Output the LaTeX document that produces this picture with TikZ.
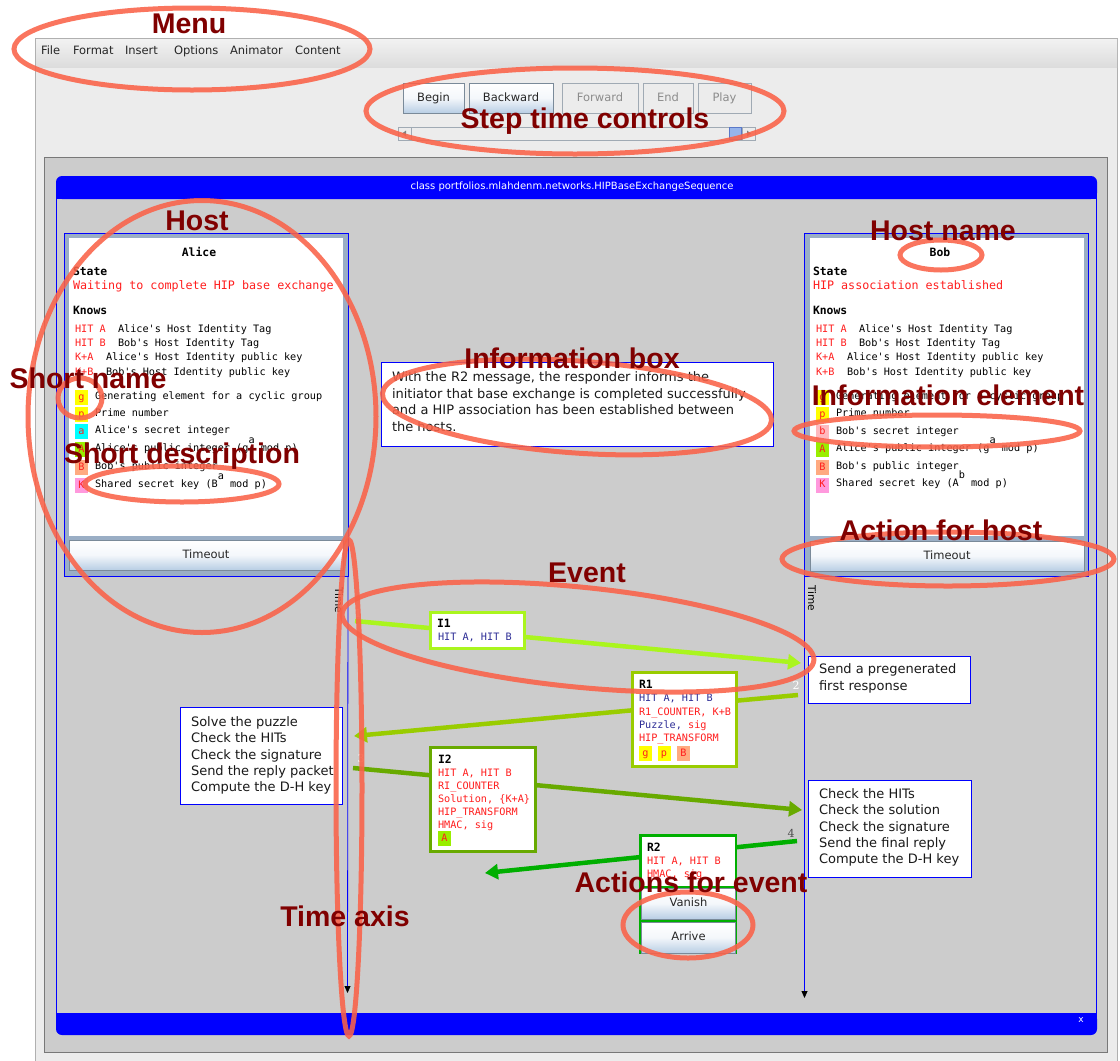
\documentclass[tikz,border=0pt]{standalone}
\usepackage{fontspec}
\setmainfont{DejaVu Sans}
\setmonofont{DejaVu Sans Mono}
\newfontfamily\annfont{Liberation Sans}
\newfontfamily\numfont{DejaVu Serif}
\usetikzlibrary{arrows.meta}

\definecolor{wingray}{RGB}{236,236,236}
\definecolor{winborder}{RGB}{176,176,176}
\definecolor{menutop}{RGB}{242,242,242}
\definecolor{menubot}{RGB}{220,220,220}
\definecolor{panelgray}{RGB}{204,204,204}
\definecolor{panelborder}{RGB}{120,120,120}
\definecolor{jblue}{RGB}{0,0,255}
\definecolor{hostframe}{RGB}{154,174,197}
\definecolor{btnbot}{RGB}{184,206,228}
\definecolor{btnmid}{RGB}{244,247,251}
\definecolor{btnborder}{RGB}{122,138,153}
\definecolor{dbtnborder}{RGB}{160,170,180}
\definecolor{dbtntext}{RGB}{140,140,140}
\definecolor{txtred}{RGB}{255,30,30}
\definecolor{txtblue}{RGB}{45,45,150}
\definecolor{evIone}{RGB}{170,245,30}
\definecolor{evRone}{RGB}{153,204,0}
\definecolor{evItwo}{RGB}{104,170,0}
\definecolor{evRtwo}{RGB}{0,175,0}
\definecolor{annred}{RGB}{128,0,0}
\definecolor{annell}{RGB}{250,98,72}
\definecolor{chipyellow}{RGB}{255,255,0}
\definecolor{chipcyan}{RGB}{0,255,255}
\definecolor{chiplime}{RGB}{153,238,0}
\definecolor{chipsalmon}{RGB}{255,170,128}
\definecolor{chippink}{RGB}{255,153,221}
\definecolor{chiprose}{RGB}{255,185,190}
\definecolor{thumbfill}{RGB}{150,180,235}
\definecolor{thumbborder}{RGB}{90,120,200}

\tikzset{
  every node/.style={inner sep=0pt, outer sep=0pt},
  uifont/.style={font=\fontsize{11.5}{13}\selectfont},
  menuitem/.style={uifont, anchor=base west, text=black!85},
  btn/.style={draw=btnborder, line width=0.8pt, top color=white, bottom color=btnbot, middle color=btnmid, uifont, text=black!85, anchor=north west, text height=8.6pt, text depth=2.4pt},
  dbtn/.style={draw=dbtnborder, line width=0.8pt, fill=wingray, uifont, text=dbtntext, anchor=north west, text height=8.6pt, text depth=2.4pt},
  sbox/.style={draw=dbtnborder, line width=0.6pt, fill=wingray, anchor=north west},
  mono/.style={font=\ttfamily\fontsize{10.2}{12}\selectfont, anchor=base west},
  monolg/.style={font=\ttfamily\fontsize{11.7}{13}\selectfont, anchor=base west},
  monobf/.style={font=\ttfamily\bfseries\fontsize{11.4}{13}\selectfont, anchor=base west},
  chip/.style={minimum width=13pt, minimum height=15pt, text height=7.4pt, text depth=2.2pt, font=\ttfamily\fontsize{10.2}{12}\selectfont, text=txtred},
  hostouter/.style={draw=jblue, line width=1pt, fill=hostframe, anchor=north west},
  hostwhite/.style={fill=white, anchor=north west},
  taxis/.style={draw=jblue, line width=0.8pt, -{Triangle[length=7pt,width=6pt,color=black,fill=black]}},
  timelbl/.style={font=\fontsize{10.5}{12}\selectfont, rotate=-90},
  msg/.style={line width=4.5pt, -{Triangle[length=13pt,width=15pt]}},
  evbox/.style={fill=white, line width=3pt, anchor=north west},
  abox/.style={draw=jblue, fill=white, line width=1pt, anchor=north west},
  btext/.style={font=\fontsize{13}{16}\selectfont, anchor=base west, text=black!90},
  stepnum/.style={font=\numfont\fontsize{11}{12}\selectfont},
  annring/.style={draw=annell, line width=5pt, opacity=0.88},
  anntext/.style={font=\annfont\bfseries\fontsize{28.5}{30}\selectfont, text=annred, anchor=base},
}

\begin{document}
\begin{tikzpicture}[x=1pt,y=-1pt]
\useasboundingbox (0,0) rectangle (1120,1061);
\fill[white] (0,0) rectangle (1120,1061);

% ---------- window and menu ----------
\draw[winborder, fill=wingray, line width=0.8pt] (35.5,38.5) rectangle (1117.5,1062);
\shade[top color=menutop, bottom color=menubot] (36,39) rectangle (1117,67);
\node[menuitem] (mFile) at (41,54) {File};
\node[menuitem] (mFormat) at (73,54) {Format};
\node[menuitem] (mInsert) at (125,54) {Insert};
\node[menuitem] (mOptions) at (174,54) {Options};
\node[menuitem] (mAnimator) at (230,54) {Animator};
\node[menuitem] (mContent) at (295,54) {Content};

% ---------- step controls ----------
\node[btn, minimum width=61pt, minimum height=30pt] (bBegin) at (403,83) {Begin};
\node[btn, minimum width=84pt, minimum height=30pt] (bBack) at (469,83) {Backward};
\node[dbtn, minimum width=76pt, minimum height=30pt] (bFwd) at (562,83) {Forward};
\node[dbtn, minimum width=50pt, minimum height=30pt] (bEnd) at (643,83) {End};
\node[dbtn, minimum width=53pt, minimum height=30pt] (bPlay) at (698,83) {Play};

\node[sbox, minimum width=357pt, minimum height=13pt] (slider) at (398,127) {};
\node[sbox, minimum width=13pt, minimum height=13pt] (sleft) at (398,127) {};
\fill[gray] ([xshift=-2.5pt]sleft.center) -- ++(4pt,-3pt) -- ++(0,6pt) -- cycle;
\node[draw=thumbborder, fill=thumbfill, line width=0.6pt, anchor=north west, minimum width=12pt, minimum height=12pt] (thumb) at (729.5,127.5) {};
\node[sbox, minimum width=13pt, minimum height=13pt] (sright) at (742,127) {};
\fill[gray] ([xshift=2.5pt]sright.center) -- ++(-4pt,-3pt) -- ++(0,6pt) -- cycle;

% ---------- panel and blue frame ----------
\draw[panelborder, fill=panelgray, line width=1pt] (44.5,157.5) rectangle (1107.5,1052);
\fill[jblue, rounded corners=6pt] (56,176) rectangle (1097,199);
\fill[jblue] (56,190) rectangle (1097,199);
\node[font=\fontsize{10}{12}\selectfont, text=white] (title) at (572,187) {class portfolios.mlahdenm.networks.HIPBaseExchangeSequence};
\fill[jblue, rounded corners=6pt] (56,1013) rectangle (1097,1035);
\fill[jblue] (56,1013) rectangle (1097,1022);
\node[font=\fontsize{9}{10}\selectfont, text=white] (closex) at (1081,1020) {x};
\draw[jblue, line width=0.8pt] (56.4,199) -- (56.4,1013);
\draw[jblue, line width=0.8pt] (1096.6,199) -- (1096.6,1013);

% ---------- Alice ----------
\node[hostouter, minimum width=284pt, minimum height=343pt] (aliceBox) at (64,233) {};
\node[hostwhite, minimum width=274pt, minimum height=298pt] (aliceWhite) at (69,238) {};
\node[btn, minimum width=274pt, minimum height=30pt] (aliceTimeout) at (69,540) {Timeout};
\node[monobf, anchor=base] (aliceName) at (199,256) {Alice};
\node[monobf] (aState) at (73,275) {State};
\node[monolg, text=txtred] (aStateTxt) at (73,289) {Waiting to complete HIP base exchange};
\node[monobf] (aKnows) at (73,314) {Knows};
\node[mono, text=txtred] (aHA) at (75,332.7) {HIT A};
\node[mono] (aHAd) at (118,332.7) {Alice's Host Identity Tag};
\node[mono, text=txtred] (aHB) at (75,346.7) {HIT B};
\node[mono] (aHBd) at (118,346.7) {Bob's Host Identity Tag};
\node[mono, text=txtred] (aKA) at (75,360.7) {K+A};
\node[mono] (aKAd) at (106,360.7) {Alice's Host Identity public key};
\node[mono, text=txtred] (aKB) at (75,375.7) {K+B};
\node[mono] (aKBd) at (106,375.7) {Bob's Host Identity public key};
\node[chip, fill=chipyellow] (ag) at (81.5,397.5) {g};
\node[mono] (agd) at (95,399.7) {Generating element for a cyclic group};
\node[chip, fill=chipyellow] (ap) at (81.5,414.5) {p};
\node[mono] (apd) at (95,416.7) {Prime number};
\node[chip, fill=chipcyan] (aa) at (81.5,431.5) {a};
\node[mono] (aad) at (95,433.7) {Alice's secret integer};
\node[chip, fill=chiplime] (aA) at (81.5,449.5) {A};
\node[mono] (aAd) at (95,451.7) {Alice's public integer (g\raisebox{8pt}{a} mod p)};
\node[chip, fill=chipsalmon] (aB) at (81.5,467.5) {B};
\node[mono] (aBd) at (95,469.7) {Bob's public integer};
\node[chip, fill=chippink] (aK) at (81.5,485.5) {K};
\node[mono] (aKd) at (95,487.7) {Shared secret key (B\raisebox{8pt}{a} mod p)};

% ---------- Bob ----------
\node[hostouter, minimum width=284pt, minimum height=343pt] (bobBox) at (804.5,233) {};
\node[hostwhite, minimum width=274pt, minimum height=298pt] (bobWhite) at (810,238) {};
\node[btn, minimum width=274pt, minimum height=30pt] (bobTimeout) at (810,541) {Timeout};
\node[monobf, anchor=base] (bobName) at (940,256) {Bob};
\node[monobf] (bState) at (813,275) {State};
\node[monolg, text=txtred] (bStateTxt) at (813,289) {HIP association established};
\node[monobf] (bKnows) at (813,314) {Knows};
\node[mono, text=txtred] (bHA) at (816,332.7) {HIT A};
\node[mono] (bHAd) at (859,332.7) {Alice's Host Identity Tag};
\node[mono, text=txtred] (bHB) at (816,346.7) {HIT B};
\node[mono] (bHBd) at (859,346.7) {Bob's Host Identity Tag};
\node[mono, text=txtred] (bKA) at (816,360.7) {K+A};
\node[mono] (bKAd) at (847,360.7) {Alice's Host Identity public key};
\node[mono, text=txtred] (bKB) at (816,375.7) {K+B};
\node[mono] (bKBd) at (847,375.7) {Bob's Host Identity public key};
\node[chip, fill=chipyellow] (bg) at (822.5,397.5) {g};
\node[mono] (bgd) at (836,399.7) {Generating element for a cyclic group};
\node[chip, fill=chipyellow] (bp) at (822.5,414.5) {p};
\node[mono] (bpd) at (836,416.7) {Prime number};
\node[chip, fill=chiprose] (bb) at (822.5,432) {b};
\node[mono] (bbd) at (836,434.7) {Bob's secret integer};
\node[chip, fill=chiplime] (bA) at (822.5,449.5) {A};
\node[mono] (bAd) at (836,451.7) {Alice's public integer (g\raisebox{8pt}{a} mod p)};
\node[chip, fill=chipsalmon] (bB) at (822.5,467.5) {B};
\node[mono] (bBd) at (836,469.7) {Bob's public integer};
\node[chip, fill=chippink] (bK) at (822.5,485) {K};
\node[mono] (bKd) at (836,486.7) {Shared secret key (A\raisebox{8pt}{b} mod p)};

% ---------- time axes ----------
\coordinate (aEnd) at (347.5,993);
\draw[taxis] (aliceBox.south east) -- (aEnd);
\coordinate (bEnd) at (804.5,998);
\draw[taxis] (bobBox.south west) -- (bEnd);
\node[timelbl] (aTime) at (339,600) {Time};
\node[timelbl] (bTime) at (812,598) {Time};

% ---------- messages ----------
\coordinate (m1s) at (355,621);
\coordinate (m1e) at (801,663);
\coordinate (m2s) at (798,695);
\coordinate (m2e) at (354,736);
\coordinate (m3s) at (353,768);
\coordinate (m3e) at (802,810);
\coordinate (m4s) at (797,841);
\coordinate (m4e) at (485,873);
\draw[msg, evIone] (m1s) -- (m1e);
\draw[msg, evRone] (m2s) -- (m2e);
\draw[msg, evItwo] (m3s) -- (m3e);
\draw[msg, evRtwo] (m4s) -- (m4e);

% I1
\node[evbox, draw=evIone, minimum width=94pt, minimum height=36pt] (I1box) at (430.5,612.5) {};
\node[monobf] (I1t) at (437,627.5) {I1};
\node[mono, text=txtblue] (I1a) at (438,640.7) {HIT A, HIT B};
% R1
\node[evbox, draw=evRone, minimum width=104pt, minimum height=94pt] (R1box) at (632.5,672.5) {};
\node[monobf] (R1t) at (639,688.5) {R1};
\node[mono, text=txtblue] (R1a) at (639,701.9) {HIT A, HIT B};
\node[mono, text=txtred] (R1b) at (639,715.1) {R1\_COUNTER, K+B};
\node[mono, text=txtblue] (R1c) at (639,728.3) {Puzzle, \textcolor{txtred}{sig}};
\node[mono, text=txtred] (R1d) at (639,741.5) {HIP\_TRANSFORM};
\node[chip, fill=chipyellow] (R1g) at (645.5,753.5) {g};
\node[chip, fill=chipyellow] (R1p) at (664,753.5) {p};
\node[chip, fill=chipsalmon] (R1B) at (683.5,753.5) {B};
% I2
\node[evbox, draw=evItwo, minimum width=105pt, minimum height=104pt] (I2box) at (430.5,747.5) {};
\node[monobf] (I2t) at (438,763.5) {I2};
\node[mono, text=txtred] (I2a) at (438,776.7) {HIT A, HIT B};
\node[mono, text=txtred] (I2b) at (438,789.7) {RI\_COUNTER};
\node[mono, text=txtred] (I2c) at (438,802.7) {Solution, \{K+A\}};
\node[mono, text=txtred] (I2d) at (438,815.7) {HIP\_TRANSFORM};
\node[mono, text=txtred] (I2e) at (438,828.2) {HMAC, sig};
\node[chip, fill=chiplime] (I2A) at (444.5,838.5) {A};
% R2
\node[evbox, draw=evRtwo, line width=2.5pt, minimum width=95.5pt, minimum height=117.5pt] (R2box) at (640.25,835.25) {};
\fill[evRtwo] (639,886) rectangle (737,954);
\node[monobf] (R2t) at (647,851.5) {R2};
\node[mono, text=txtred] (R2a) at (647,864.7) {HIT A, HIT B};
\node[mono, text=txtred] (R2b) at (647,877.7) {HMAC, sig};
\node[btn, minimum width=94pt, minimum height=31pt] (bVanish) at (641.5,888) {Vanish};
\node[btn, minimum width=94pt, minimum height=31pt] (bArrive) at (641.5,922) {Arrive};

% ---------- information / action boxes ----------
\node[abox, minimum width=392pt, minimum height=84pt] (infoBox) at (381,362) {};
\foreach [count=\i] \t in {{With the R2 message, the responder informs the},{initiator that base exchange is completed successfully},{and a HIP association has been established between},{the hosts.}}
  \node[btext] (info\i) at (392,{364.9+16.6*\i}) {\t};

\node[abox, minimum width=162pt, minimum height=97pt] (aAct) at (180,707) {};
\foreach [count=\i] \t in {Solve the puzzle,Check the HITs,Check the signature,Send the reply packet,Compute the D-H key}
  \node[btext] (aAct\i) at (191,{710.2+16.3*\i}) {\t};

\node[abox, minimum width=162pt, minimum height=47pt] (bActA) at (808,656) {};
\foreach [count=\i] \t in {Send a pregenerated,first response}
  \node[btext] (bActA\i) at (819,{657+16.5*\i}) {\t};

\node[abox, minimum width=163pt, minimum height=97pt] (bActB) at (808,780) {};
\foreach [count=\i] \t in {Check the HITs,Check the solution,Check the signature,Send the final reply,Compute the D-H key}
  \node[btext] (bActB\i) at (819,{782.2+16.3*\i}) {\t};

% ---------- step numbers ----------
\node[stepnum, text=white] (n1) at (358,613) {1};
\node[stepnum, text=white] (n2) at (796,685) {2};
\node[stepnum, text=white] (n3) at (361,758) {3};
\node[stepnum, text=black!70] (n4) at (791,833) {4};

% ---------- annotation rings ----------
\draw[annring] (192,49) ellipse [x radius=178pt, y radius=41pt];
\draw[annring] (575,111) ellipse [x radius=209pt, y radius=43pt];
\draw[annring] (202,416.5) ellipse [x radius=174pt, y radius=216pt];
\draw[annring] (941,255) ellipse [x radius=41pt, y radius=15pt];
\draw[annring, rotate around={-4:(577,407)}] (577,407) ellipse [x radius=195pt, y radius=46pt];
\draw[annring] (80,398) ellipse [x radius=22pt, y radius=20pt];
\draw[annring] (937,431) ellipse [x radius=143pt, y radius=16pt];
\draw[annring] (182,484) ellipse [x radius=97pt, y radius=18pt];
\draw[annring] (948,559) ellipse [x radius=166pt, y radius=27pt];
\draw[annring, rotate around={-5.7:(578,637)}] (578,637) ellipse [x radius=237pt, y radius=50pt];
\draw[annring] (349,788) ellipse [x radius=13pt, y radius=248pt];
\draw[annring] (688,925) ellipse [x radius=65pt, y radius=33pt];

% ---------- annotation texts ----------
\node[anntext] (tMenu) at (189,33) {Menu};
\node[anntext] (tStep) at (585,128) {Step time controls};
\node[anntext] (tHost) at (197,230) {Host};
\node[anntext] (tHostName) at (943,240) {Host name};
\node[anntext] (tInfoBox) at (572,368) {Information box};
\node[anntext] (tShortName) at (88,388) {Short name};
\node[anntext] (tInfoElem) at (948,405) {Information element};
\node[anntext] (tShortDesc) at (182,463) {Short description};
\node[anntext] (tAction) at (941,540) {Action for host};
\node[anntext] (tEvent) at (587,582) {Event};
\node[anntext] (tTimeAxis) at (345,926) {Time axis};
\node[anntext] (tActions) at (691,892) {Actions for event};
\end{tikzpicture}
\end{document}
